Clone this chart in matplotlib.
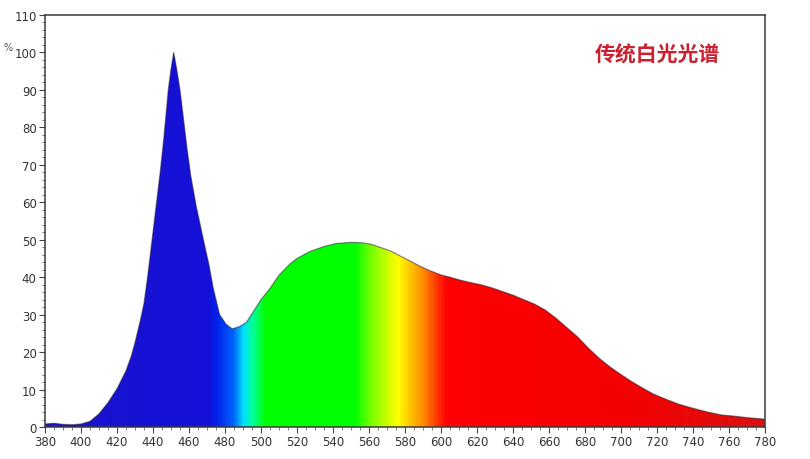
import numpy as np
import matplotlib
matplotlib.use('Agg')
import matplotlib.pyplot as plt
from matplotlib.ticker import MultipleLocator
from matplotlib.colors import LinearSegmentedColormap

plt.rcParams['font.family'] = ['DejaVu Sans']

# spectrum (wavelength nm, relative intensity %)
wavelength = [380, 385, 390, 395, 400, 405, 410, 415, 420, 425, 428, 430, 433,
              435, 437, 439.5, 442, 444, 446, 448.5, 450, 451.5, 453, 455, 457,
              459, 461, 464, 468, 471, 473.5, 477, 480.5, 484, 488,
              492, 496, 500, 505, 510, 516, 520, 527, 535, 542, 550, 556, 561,
              566, 572, 578, 583, 588, 594, 600, 605, 610, 616, 622, 628, 634,
              640, 646, 652, 658, 664, 670, 676, 682, 688, 694, 700, 706, 712,
              718, 725, 732, 740, 748, 756, 763, 770, 775, 780]
intensity = [0.8, 1.0, 0.7, 0.6, 0.8, 1.5, 3.5, 6.5, 10.2, 15, 19, 22.5, 28.5,
             33, 40, 50, 60, 68, 77, 90, 95.5, 100, 96, 90, 82,
             74, 67, 59, 50, 43.5, 37, 30, 27.5, 26.2, 26.8,
             28, 31, 34, 37, 40.5, 43.5, 45, 46.8, 48.2, 49, 49.3, 49.2, 48.8,
             48, 47, 45.5, 44.3, 43, 41.7, 40.6, 40, 39.3, 38.6, 38, 37.2, 36.2,
             35.2, 34, 32.8, 31.2, 29, 26.5, 24, 21, 18.3, 16, 14, 12.1, 10.4,
             8.8, 7.4, 6.1, 5, 4, 3.2, 2.9, 2.5, 2.3, 2.1]

# colour of the fill along the wavelength axis
color_nm = [380, 470, 476, 484, 490, 495, 502, 552, 562, 576, 590, 603, 700, 780]
color_rgb = ['#1c14cc', '#1410d8', '#0028ec', '#0060ff', '#00e0ff', '#00ff99',
             '#00ff00', '#00ff00', '#80ff00', '#ffff00', '#ff8c00', '#ff0000',
             '#f50000', '#dc1010']

xticks = list(range(380, 781, 20))
yticks = list(range(0, 111, 10))

fig = plt.figure(figsize=(8.1, 4.6), dpi=100)
ax = fig.add_axes([45 / 810, 32 / 460, 720 / 810, 412 / 460])

pos = [(n - 380) / 400 for n in color_nm]
cmap = LinearSegmentedColormap.from_list('spec', list(zip(pos, color_rgb)))
grad = np.linspace(0, 1, 800).reshape(1, -1)
img = ax.imshow(grad, cmap=cmap, aspect='auto', extent=[380, 780, 0, 110],
                origin='lower', zorder=1)

poly = ax.fill_between(wavelength, 0, intensity, color='none', lw=0)
clip = poly.get_paths()[0]
img.set_clip_path(clip, transform=ax.transData)

# soft dark outline on the top edge
ax.plot(wavelength, intensity, color='#201830', lw=0.9, alpha=0.5, zorder=2)

ax.set_xlim(380, 780)
ax.set_ylim(0, 110)
ax.set_xticks(xticks)
ax.set_yticks(yticks)
ax.xaxis.set_minor_locator(MultipleLocator(5))
ax.yaxis.set_minor_locator(MultipleLocator(2))
ax.tick_params(which='major', direction='out', length=4, width=0.8,
               colors='#444444', labelsize=8.5, labelcolor='#333333', pad=2)
ax.tick_params(which='minor', direction='out', length=2, width=0.6,
               colors='#666666')
for s in ax.spines.values():
    s.set_color('#3a3a3a')
    s.set_linewidth(1.1)

fig.text(8 / 810, 1 - 48 / 460, '%', fontsize=7, color='#555555',
         ha='center', va='center')
fig.text(657 / 810, 1 - 55 / 460, '传统白光光谱', fontsize=15, color='#cc1f2f',
         fontweight='bold', ha='center', va='center',
         family=['Noto Sans CJK SC', 'DejaVu Sans'])

fig.savefig('out.png', dpi=100)
